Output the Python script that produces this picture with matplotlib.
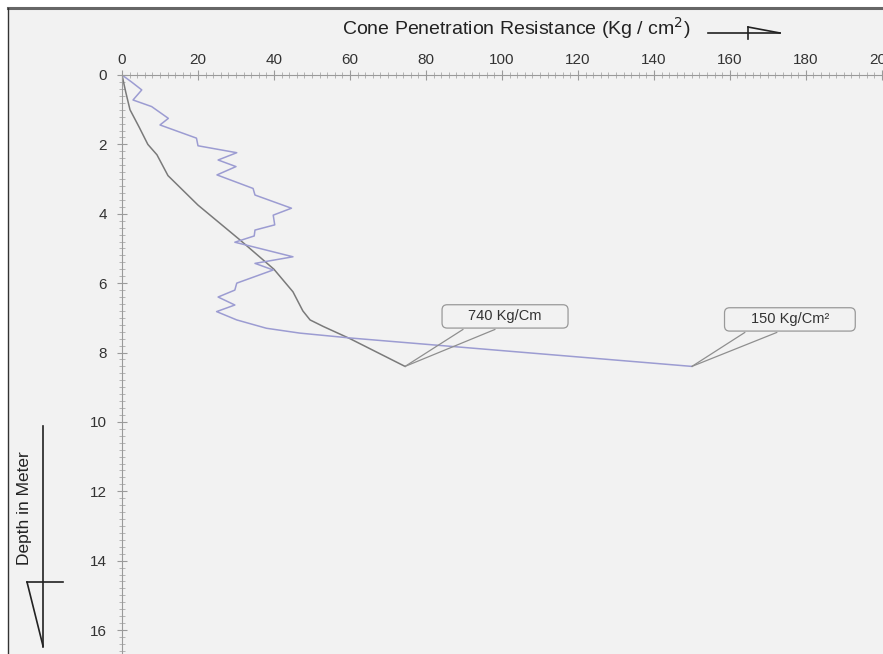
import numpy as np
import matplotlib
matplotlib.use("Agg")
import matplotlib.pyplot as plt
from matplotlib.lines import Line2D
from matplotlib.patches import Rectangle, BoxStyle
from matplotlib.ticker import MultipleLocator

plt.rcParams['font.family'] = ['Liberation Sans', 'DejaVu Sans']

# reference curve (grey) - resistance vs depth
gray_x = [0, 1, 2.1, 4.5, 6.8, 9.2, 12.1, 20, 31, 40, 45, 47.6, 49.5, 53, 60, 74.5]
gray_y = [0, 0.5, 1.0, 1.5, 2.0, 2.3, 2.9, 3.75, 4.75, 5.6, 6.25, 6.8, 7.06, 7.25, 7.6, 8.4]

# measured cone resistance (blue)
blue_x = [0, 2.5, 5.2, 2.9, 7.8, 12.2, 10, 19.6, 20, 30.2, 25.3, 30, 25, 34.5, 35, 44.6,
          39.8, 40.2, 35, 34.8, 29.7, 45, 35, 39.8, 30.2, 29.7, 25.3, 29.7, 24.9, 30.2,
          38, 46.8, 60, 150]
blue_y = [0, 0.2, 0.43, 0.72, 0.91, 1.25, 1.44, 1.82, 2.04, 2.24, 2.45, 2.64, 2.88, 3.27,
          3.46, 3.84, 4.04, 4.32, 4.47, 4.64, 4.82, 5.24, 5.43, 5.62, 6.0, 6.2, 6.4, 6.63,
          6.82, 7.06, 7.3, 7.44, 7.58, 8.4]

labels = ['740 Kg/Cm', '150 Kg/Cm\u00b2']

W, H = 883, 654
bg = '#f2f2f2'
fig = plt.figure(figsize=(W / 100, H / 100), dpi=100)
fig.patch.set_facecolor('white')

def fx(px):
    return px / W

def fy(py):
    return 1 - py / H

# panel background + border
fig.add_artist(Rectangle((fx(8), 0), 1 - fx(8), fy(8), transform=fig.transFigure,
                         fc=bg, ec='none', zorder=0))
fig.add_artist(Line2D([fx(8), 1], [fy(8), fy(8)], transform=fig.transFigure,
                      color='#666666', lw=2.2))
fig.add_artist(Line2D([fx(8), fx(8)], [0, fy(8)], transform=fig.transFigure,
                      color='#333333', lw=1))

ax = fig.add_axes([fx(122), 0, fx(883) - fx(122), fy(75)])
ax.set_facecolor(bg)
ax.set_xlim(0, 200.3)
ax.set_ylim(16.69, 0)

ax.plot(gray_x, gray_y, color='#7a7a7a', lw=1.1, solid_joinstyle='round')
ax.plot(blue_x, blue_y, color='#9c9cd2', lw=1.1, solid_joinstyle='round')

# ticks
ax.xaxis.tick_top()
ax.xaxis.set_major_locator(MultipleLocator(20))
ax.xaxis.set_minor_locator(MultipleLocator(2))
ax.yaxis.set_major_locator(MultipleLocator(2))
ax.yaxis.set_minor_locator(MultipleLocator(0.2))
ax.tick_params(which='major', direction='inout', length=7, width=0.8, color='#9a9a9a',
               labelsize=11, labelcolor='#333333')
ax.tick_params(axis='x', which='major', pad=2.0)
ax.tick_params(axis='y', which='major', pad=7.5)
ax.tick_params(which='minor', direction='inout', length=4, width=0.6, color='#aaaaaa')
ax.tick_params(axis='x', which='both', top=True, bottom=False)
for s in ['right', 'bottom']:
    ax.spines[s].set_visible(False)
for s in ['left', 'top']:
    ax.spines[s].set_color('#9a9a9a')
    ax.spines[s].set_linewidth(0.8)

# callout boxes: wider than tall, like the original
_round = BoxStyle.Round(pad=0, rounding_size=0.35)

def callout_box(x0, y0, width, height, mutation_size):
    px = 1.8 * mutation_size
    py = 0.32 * mutation_size
    return _round(x0 - px, y0 - py, width + 2 * px, height + 2 * py, mutation_size)

ends = [(gray_x[-1], gray_y[-1]), (blue_x[-1], blue_y[-1])]
box_off = [(100, 50), (98, 47)]
leg_off = [[(58, 37), (90, 37)], [(53, 34), (85, 34)]]
for lab, pt, off, legs in zip(labels, ends, box_off, leg_off):
    for lo in legs:
        ax.annotate('', xy=pt, xytext=lo, textcoords='offset pixels',
                    arrowprops=dict(arrowstyle='-', color='#8f8f8f', lw=0.9,
                                    shrinkA=0, shrinkB=0))
    ax.annotate(lab, xy=pt, xytext=off, textcoords='offset pixels',
                ha='center', va='center', fontsize=10.5, color='#333333',
                bbox=dict(boxstyle=callout_box, fc=bg, ec='#999999', lw=0.9))

# axis titles with their arrow symbols
fig.text(fx(342), fy(28), 'Cone Penetration Resistance (Kg / cm$^2$)', fontsize=14,
         ha='left', va='center', color='#222222')
fig.add_artist(Line2D([fx(708), fx(780)], [fy(33), fy(33)], transform=fig.transFigure,
                      color='#222222', lw=1.2))
fig.add_artist(Line2D([fx(748), fx(748)], [fy(27), fy(39)], transform=fig.transFigure,
                      color='#222222', lw=1.2))
fig.add_artist(Line2D([fx(748), fx(780)], [fy(27), fy(33)], transform=fig.transFigure,
                      color='#222222', lw=1.2))

fig.text(fx(25), fy(508), 'Depth in Meter', fontsize=12.5, rotation=90,
         ha='center', va='center', color='#222222')
fig.add_artist(Line2D([fx(43), fx(43)], [fy(426), fy(647)], transform=fig.transFigure,
                      color='#222222', lw=1.2))
fig.add_artist(Line2D([fx(27), fx(63)], [fy(582), fy(582)], transform=fig.transFigure,
                      color='#222222', lw=1.2))
fig.add_artist(Line2D([fx(27), fx(43)], [fy(582), fy(646)], transform=fig.transFigure,
                      color='#222222', lw=1.2))

fig.savefig('out.png', dpi=100, facecolor=fig.get_facecolor())
